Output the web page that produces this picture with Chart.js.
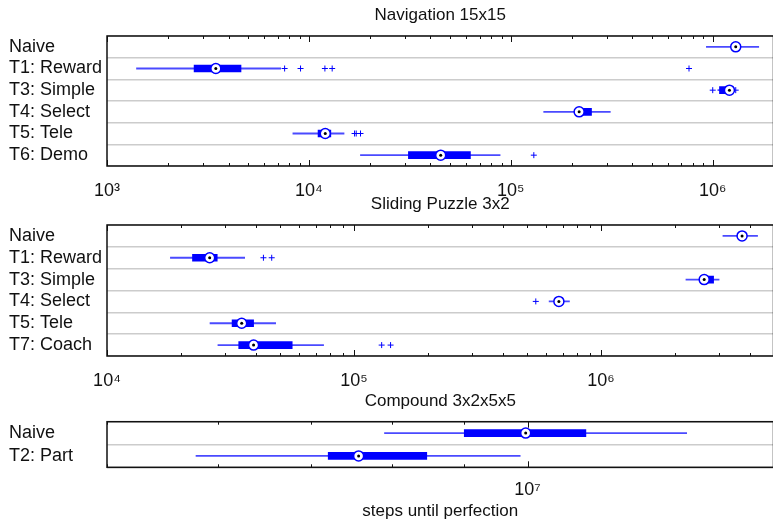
<!DOCTYPE html>
<html>
<head>
<meta charset="utf-8">
<script src="https://cdn.jsdelivr.net/npm/chart.js@4.4.1/dist/chart.umd.min.js"></script>
<style>
  html, body { margin: 0; padding: 0; background: #fff; overflow: hidden; }
  body { width: 773px; height: 523px; position: relative; }
  .panel { position: absolute; left: 0; width: 780px; }
</style>
</head>
<body>
<div class="panel" style="top:0;height:200px"><canvas id="nav"></canvas></div>
<div class="panel" style="top:190px;height:200px"><canvas id="puz"></canvas></div>
<div class="panel" style="top:380px;height:143px"><canvas id="comp"></canvas></div>
<script>
// Navigation 15x15
const navLabels = ['Naive', 'T1: Reward', 'T3: Simple', 'T4: Select', 'T5: Tele', 'T6: Demo'];
const navLow  = [9.3e5, 1400, 1.06e6, 1.455e5, 8330, 18000];
const navQ1   = [1.25e6, 2700, 1.08e6, 2.1e5, 11100, 31100];
const navMed  = [1.3e6, 3460, 1.21e6, 2.18e5, 12050, 44950];
const navQ3   = [1.35e6, 4610, 1.25e6, 2.51e5, 12840, 63100];
const navHigh = [1.69e6, 7250, 1.27e6, 3.11e5, 14930, 88500];
const navOut  = [[], [7580, 9090, 12000, 13040, 7.63e5], [1.0e6, 1.3e6], [], [16830, 17150, 18010], [1.3e5]];
const navMajor = [1e3, 1e4, 1e5, 1e6];

// Sliding Puzzle 3x2
const puzLabels = ['Naive', 'T1: Reward', 'T3: Simple', 'T4: Select', 'T5: Tele', 'T7: Coach'];
const puzLow  = [3.12e6, 18060, 2.21e6, 6.17e5, 26130, 28130];
const puzQ1   = [3.6e6, 22190, 2.55e6, 6.6e5, 32100, 34150];
const puzMed  = [3.73e6, 26050, 2.62e6, 6.76e5, 35110, 39230];
const puzQ3   = [3.85e6, 27950, 2.86e6, 6.95e5, 39230, 56230];
const puzHigh = [4.31e6, 36100, 3.01e6, 7.46e5, 48190, 75350];
const puzOut  = [[], [43000, 46450], [], [5.45e5], [], [1.295e5, 1.407e5]];
const puzMajor = [1e4, 1e5, 1e6];

// Compound 3x2x5x5
const compLabels = ['Naive', 'T2: Part'];
const compLow  = [7.9e6, 5.79e6];
const compQ1   = [9.01e6, 7.2e6];
const compMed  = [9.97e6, 7.57e6];
const compQ3   = [1.101e7, 8.47e6];
const compHigh = [1.3e7, 9.88e6];
const compOut  = [[], []];
const compMajor = [1e7];

const blue = '#0000ff';
const ink = '#111';
Chart.defaults.font.family = "'Liberation Sans', Arial, sans-serif";

function supLabel(v) {
  const sup = '⁰¹²³⁴⁵⁶⁷⁸⁹';
  const e = String(Math.round(Math.log10(v)));
  return '10' + e.split('').map(d => sup[+d]).join('');
}

// log ticks 1..9 x 10^n inside [min, max]
function logTicks(min, max, majors) {
  const out = [];
  for (let e = Math.floor(Math.log10(min)); e <= Math.ceil(Math.log10(max)); e++) {
    for (let k = 1; k < 10; k++) {
      const v = k * Math.pow(10, e);
      if (v >= min * 0.999 && v <= max * 1.001) out.push({value: v, major: majors.includes(v)});
    }
  }
  return out;
}

const frame = {
  id: 'frame',
  afterDraw(chart) {
    const {ctx, chartArea: a} = chart;
    const x = chart.scales.x;
    ctx.save();
    ctx.strokeStyle = ink;
    ctx.lineWidth = 1;
    x.ticks.forEach(t => {
      const px = Math.round(x.getPixelForValue(t.value)) + 0.5;
      const len = t.major ? 6 : 3;
      ctx.beginPath();
      ctx.moveTo(px, a.bottom);
      ctx.lineTo(px, a.bottom - len);
      ctx.moveTo(px, a.top);
      ctx.lineTo(px, a.top + len);
      ctx.stroke();
    });
    ctx.lineWidth = 1.5;
    ctx.strokeRect(a.left, a.top, a.right - a.left, a.bottom - a.top);
    ctx.restore();
  }
};

function boxChart(id, cfg) {
  const labels = cfg.labels;
  const ticks = logTicks(cfg.min, cfg.max, cfg.majors);
  const outPts = [];
  cfg.out.forEach((list, i) => list.forEach(v => outPts.push({x: v, y: labels[i]})));

  new Chart(document.getElementById(id), {
    type: 'bar',
    data: {
      labels: labels,
      datasets: [
        {
          data: labels.map((l, i) => [cfg.low[i], cfg.high[i]]),
          backgroundColor: '#4a4aff',
          barThickness: 1.2,
          grouped: false,
          borderWidth: 0,
          order: 5
        },
        {
          data: labels.map((l, i) => [cfg.q1[i], cfg.q3[i]]),
          backgroundColor: blue,
          barThickness: 7,
          grouped: false,
          borderWidth: 0,
          order: 4
        },
        {
          type: 'scatter',
          data: outPts,
          pointStyle: 'cross',
          pointRadius: 3,
          borderColor: blue,
          borderWidth: 1,
          order: 3
        },
        {
          type: 'scatter',
          data: labels.map((l, i) => ({x: cfg.med[i], y: l})),
          pointStyle: 'circle',
          pointRadius: 5,
          backgroundColor: '#fff',
          borderColor: blue,
          borderWidth: 1.5,
          order: 2
        },
        {
          type: 'scatter',
          data: labels.map((l, i) => ({x: cfg.med[i], y: l})),
          pointStyle: 'circle',
          pointRadius: 1.5,
          backgroundColor: '#000',
          borderWidth: 0,
          order: 1
        }
      ]
    },
    options: {
      indexAxis: 'y',
      responsive: true,
      maintainAspectRatio: false,
      animation: false,
      events: [],
      layout: { padding: { left: 9, right: 0, top: 0, bottom: 0 } },
      plugins: {
        legend: { display: false },
        tooltip: { enabled: false },
        title: {
          display: true,
          text: cfg.title,
          fullSize: false,
          color: ink,
          font: { size: 17, weight: 'normal' },
          padding: cfg.titlePad
        }
      },
      scales: {
        x: {
          type: 'logarithmic',
          min: cfg.min,
          max: cfg.max,
          afterBuildTicks: s => { s.ticks = ticks.map(t => ({value: t.value, major: t.major})); },
          afterFit: s => { s.height = cfg.xHeight; s.paddingLeft = 0; s.paddingRight = 0; },
          ticks: {
            autoSkip: false,
            maxRotation: 0,
            padding: cfg.tickPad,
            color: ink,
            font: { size: 18 },
            callback: v => cfg.majors.includes(v) ? supLabel(v) : ''
          },
          grid: { display: false, drawTicks: false },
          border: { display: false },
          title: {
            display: !!cfg.xTitle,
            text: cfg.xTitle || '',
            color: ink,
            font: { size: 17 },
            padding: { top: 0, bottom: 1 }
          }
        },
        y: {
          afterFit: s => { s.width = 98; },
          ticks: {
            autoSkip: false,
            crossAlign: 'far',
            padding: 0,
            color: ink,
            font: { size: 18 }
          },
          grid: { color: '#cccccc', lineWidth: 1.5, drawTicks: false, offset: true },
          border: { display: false }
        }
      }
    },
    plugins: [frame]
  });
}

boxChart('nav', {
  title: 'Navigation 15x15', labels: navLabels,
  low: navLow, q1: navQ1, med: navMed, q3: navQ3, high: navHigh, out: navOut,
  min: 1e3, max: 2e6, majors: navMajor,
  titlePad: { top: 5, bottom: 10.6 }, xHeight: 34, tickPad: 14
});

boxChart('puz', {
  title: 'Sliding Puzzle 3x2', labels: puzLabels,
  low: puzLow, q1: puzQ1, med: puzMed, q3: puzQ3, high: puzHigh, out: puzOut,
  min: 1e4, max: 5e6, majors: puzMajor,
  titlePad: { top: 4.5, bottom: 10.1 }, xHeight: 34, tickPad: 14
});

boxChart('comp', {
  title: 'Compound 3x2x5x5', labels: compLabels,
  low: compLow, q1: compQ1, med: compMed, q3: compQ3, high: compHigh, out: compOut,
  min: 5e6, max: 1.5e7, majors: compMajor,
  titlePad: { top: 10.8, bottom: 10.5 }, xHeight: 55.7, tickPad: 12, xTitle: 'steps until perfection'
});
</script>
</body>
</html>
